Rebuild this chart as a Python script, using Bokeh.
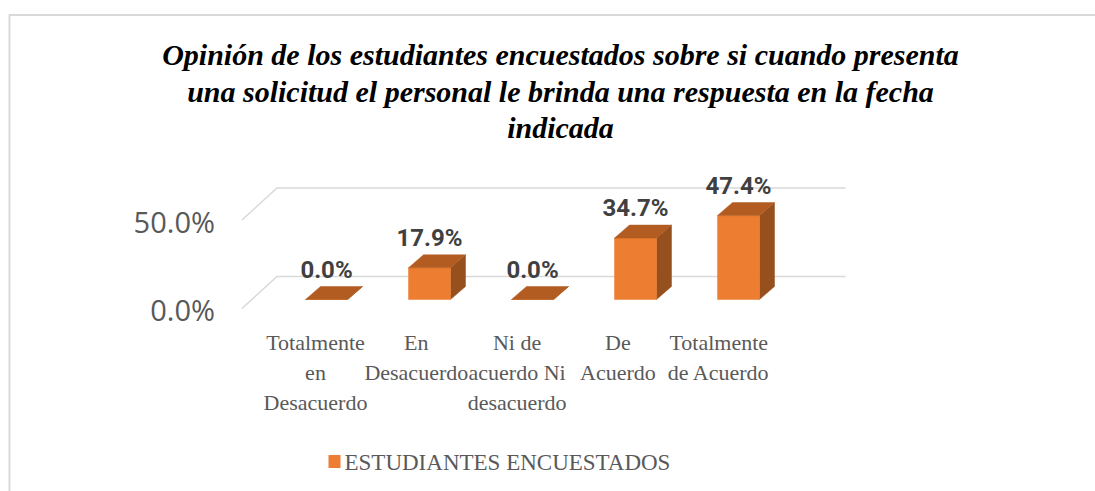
from bokeh.plotting import figure
from bokeh.models import Range1d, ColumnDataSource
from bokeh.embed import file_html
from bokeh.resources import INLINE
from bokeh.core.properties import value

# ---- data ----
categories = [
    "Totalmente\nen\nDesacuerdo",
    "En\nDesacuerdo",
    "Ni de\nacuerdo Ni\ndesacuerdo",
    "De\nAcuerdo",
    "Totalmente\nde Acuerdo",
]
values = [0.0, 17.9, 0.0, 34.7, 47.4]
tick_values = [0, 50]
tick_labels = ["0.0%", "50.0%"]
series_name = "ESTUDIANTES ENCUESTADOS"
title_lines = [
    "Opinión de los estudiantes encuestados sobre si cuando presenta",
    "una solicitud el personal le brinda una respuesta en la fecha",
    "indicada",
]

# ---- layout (pixel geometry of the 3D projection) ----
W, H = 1095, 491
X0, XSTEP = 326.0, 103.0      # image x of category 0 front centre, spacing
Y0, YSCALE = 299.0, 1.77      # image y of value 0 at bar front, px per %

def px(xi):   # image pixel x -> data x
    return (xi - X0) / XSTEP

def py(yi):   # image pixel y -> data y
    return (Y0 - yi) / YSCALE

HALF = 21 / XSTEP             # half bar width
DX, DY = 15 / XSTEP, 13 / YSCALE          # bar depth offset
WALL_DX, WALL_DY = 25 / XSTEP, 23 / YSCALE  # back wall offset
FLOOR_DX, FLOOR_DY = -10 / XSTEP, -9 / YSCALE  # floor front offset

p = figure(width=W, height=H, output_backend="svg", toolbar_location=None,
           x_range=Range1d(px(0), px(W)), y_range=Range1d(py(H), py(0)),
           min_border=0, outline_line_color=None)
p.axis.visible = False
p.grid.visible = False
p.background_fill_color = "white"
p.border_fill_color = "white"

# title
p.text(x=[px(560)] * 3, y=[py(54), py(91), py(127)], text=title_lines,
       text_align="center", text_baseline="middle",
       text_font=value("serif"), text_font_style="bold italic",
       text_font_size="30px", text_color="#000000")

# chart frame
p.line([px(9), px(9), px(1200)], [py(600), py(14.5), py(14.5)],
       line_color="#d9d9d9", line_width=2)

# gridlines (floor/back wall)
x_front = -0.5 - HALF + FLOOR_DX - 0.02
x_back = x_front + (WALL_DX - FLOOR_DX)
x_right = len(values) - 0.5 + 0.54
for g in tick_values:
    p.line([x_front, x_back, x_right],
           [g + FLOOR_DY, g + WALL_DY, g + WALL_DY],
           line_color="#d9d9d9", line_width=1.5)

# tick labels
p.text(x=[x_front - 27 / XSTEP] * len(tick_values),
       y=[g + FLOOR_DY - 1 / YSCALE for g in tick_values], text=tick_labels,
       text_align="right", text_baseline="middle",
       text_font=value("Open Sans"), text_font_size="29px", text_color="#595959")

# bars
xs_idx = list(range(len(values)))
front = ColumnDataSource(dict(left=[i - HALF for i in xs_idx],
                              right=[i + HALF for i in xs_idx],
                              top=values, bottom=[0] * len(values)))
top_xs, top_ys, side_xs, side_ys = [], [], [], []
for i, v in zip(xs_idx, values):
    l, r = i - HALF, i + HALF
    top_xs.append([l, r, r + DX, l + DX])
    top_ys.append([v, v, v + DY, v + DY])
    side_xs.append([r, r + DX, r + DX, r])
    side_ys.append([0, DY, v + DY, v])
p.patches(side_xs, side_ys, fill_color="#96501e", line_color="#96501e", line_width=0.5)
p.quad(left="left", right="right", top="top", bottom="bottom", source=front,
       fill_color="#ed7d31", line_color="#ed7d31", line_width=0.5)
p.patches(top_xs, top_ys, fill_color="#b35c22", line_color="#b35c22", line_width=0.5)

# data labels
p.text(x=xs_idx, y=[v + DY + 17 / YSCALE for v in values],
       text=[f"{v:.1f}%" for v in values],
       text_align="center", text_baseline="middle",
       text_font=value("Roboto"), text_font_style="bold",
       text_font_size="24px", text_color="#404040")

# category labels
lx, ly, lt = [], [], []
for i, c in enumerate(categories):
    for k, line in enumerate(c.split("\n")):
        lx.append(i - (11 + 2.2 * i) / XSTEP)
        ly.append(py(342) - k * 30 / YSCALE)
        lt.append(line)
p.text(x=lx, y=ly, text=lt, text_align="center", text_baseline="middle",
       text_font=value("Liberation Serif"), text_font_size="22px",
       text_color="#595959")

# legend
p.rect(x=[px(334)], y=[py(461)], width=12 / XSTEP, height=13 / YSCALE,
       fill_color="#ed7d31", line_color=None)
p.text(x=[px(344)], y=[py(462)], text=[series_name], text_align="left",
       text_baseline="middle", text_font=value("Liberation Serif"),
       text_font_size="23px", text_color="#595959")

open("out.html", "w").write(file_html(p, INLINE))
